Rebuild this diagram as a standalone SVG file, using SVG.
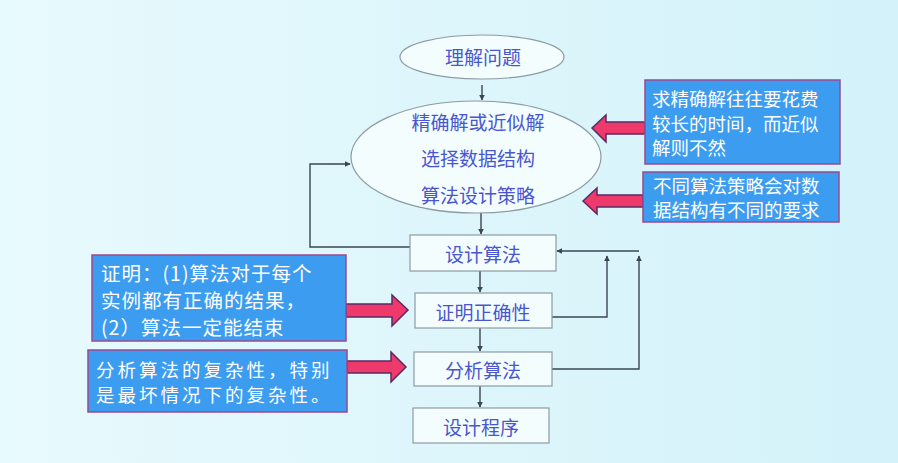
<svg xmlns="http://www.w3.org/2000/svg" width="898" height="463" viewBox="0 0 898 463">
<defs>
<linearGradient id="bg" x1="0" y1="0" x2="1" y2="0">
<stop offset="0" stop-color="#e8fafd"/>
<stop offset="1" stop-color="#d3f2f9"/>
</linearGradient>
<marker id="ah" viewBox="0 0 10 10" refX="9" refY="5" markerWidth="6" markerHeight="6" orient="auto" markerUnits="userSpaceOnUse">
<path d="M0,0 L10,5 L0,10 z" fill="#3a4654"/>
</marker>
<style>
.flow{fill:#f3fdfe;stroke:#8c9ca4;stroke-width:1.2}
.ft{font-family:"Noto Sans CJK SC","Noto Sans",sans-serif;font-size:19px;fill:#4a56d0;text-anchor:middle;dominant-baseline:central}
.note{fill:#3c9cf0;stroke:#9a4a90;stroke-width:1.5}
.nt{font-family:"Noto Sans CJK SC","Noto Sans",sans-serif;fill:#ffffff;dominant-baseline:central}
.con{fill:none;stroke:#3a4654;stroke-width:1.4}
.red{fill:#ee3a6a;stroke:#5a2a66;stroke-width:1.5}
</style>
</defs>
<rect width="898" height="463" fill="url(#bg)"/>

<g id="connectors">
<line class="con" x1="482" y1="85" x2="482" y2="100" marker-end="url(#ah)"/>
<line class="con" x1="481" y1="213" x2="481" y2="234" marker-end="url(#ah)"/>
<line class="con" x1="480" y1="271" x2="480" y2="292" marker-end="url(#ah)"/>
<line class="con" x1="480" y1="328" x2="480" y2="351" marker-end="url(#ah)"/>
<line class="con" x1="480" y1="386" x2="480" y2="407" marker-end="url(#ah)"/>
<polyline class="con" points="410,247 310,247 310,164 350,164" marker-end="url(#ah)"/>
<line class="con" x1="639" y1="251" x2="557" y2="251" marker-end="url(#ah)"/>
<polyline class="con" points="552,317 607,317 607,256" marker-end="url(#ah)"/>
<polyline class="con" points="544,369 639,369 639,256" marker-end="url(#ah)"/>
</g>

<g id="n1">
<ellipse class="flow" cx="482" cy="57" rx="82" ry="22"/>
<text class="ft" x="483" y="56">理解问题</text>
</g>
<g id="n2">
<ellipse class="flow" cx="476" cy="157" rx="125" ry="56"/>
<text class="ft" x="478" y="121">精确解或近似解</text>
<text class="ft" x="478" y="157">选择数据结构</text>
<text class="ft" x="478" y="194">算法设计策略</text>
</g>
<g id="n3">
<rect class="flow" x="410" y="235" width="146" height="36"/>
<text class="ft" x="483" y="253">设计算法</text>
</g>
<g id="n4">
<rect class="flow" x="415" y="293" width="137" height="35"/>
<text class="ft" x="483" y="311">证明正确性</text>
</g>
<g id="n5">
<rect class="flow" x="414" y="352" width="138" height="34"/>
<text class="ft" x="483" y="369">分析算法</text>
</g>
<g id="n6">
<rect class="flow" x="413" y="408" width="136" height="35"/>
<text class="ft" x="481" y="426">设计程序</text>
</g>

<g id="noteA">
<polygon class="red" points="592,128 606,115 606,122 645,122 645,134 606,134 606,142"/>
<rect class="note" x="645" y="80" width="195" height="84"/>
<text class="nt" x="652" y="98" font-size="18.5">求精确解往往要花费</text>
<text class="nt" x="652" y="123" font-size="18.5">较长的时间，而近似</text>
<text class="nt" x="652" y="147" font-size="18.5">解则不然</text>
</g>
<g id="noteB">
<polygon class="red" points="583,201 597,188 597,195 643,195 643,207 597,207 597,214"/>
<rect class="note" x="643" y="172" width="196" height="50"/>
<text class="nt" x="653" y="185" font-size="18.5">不同算法策略会对数</text>
<text class="nt" x="653" y="209" font-size="18.5">据结构有不同的要求</text>
</g>
<g id="noteC">
<polygon class="red" points="346,304 392,304 392,295 408,310 392,326 392,317 346,317"/>
<rect class="note" x="92" y="255" width="254" height="86"/>
<text class="nt" x="101" y="272" font-size="19.5" letter-spacing="1">证明：(1)算法对于每个</text>
<text class="nt" x="101" y="299" font-size="19.5" letter-spacing="1">实例都有正确的结果，</text>
<text class="nt" x="101" y="326" font-size="19.5" letter-spacing="1">(2）算法一定能结束</text>
</g>
<g id="noteD">
<polygon class="red" points="347,361 391,361 391,352 406,367 391,382 391,373 347,373"/>
<rect class="note" x="88" y="350" width="259" height="62"/>
<text class="nt" x="96" y="369" font-size="18.5" letter-spacing="3">分析算法的复杂性，特别</text>
<text class="nt" x="96" y="394" font-size="18.5" letter-spacing="3">是最坏情况下的复杂性。</text>
</g>
</svg>
